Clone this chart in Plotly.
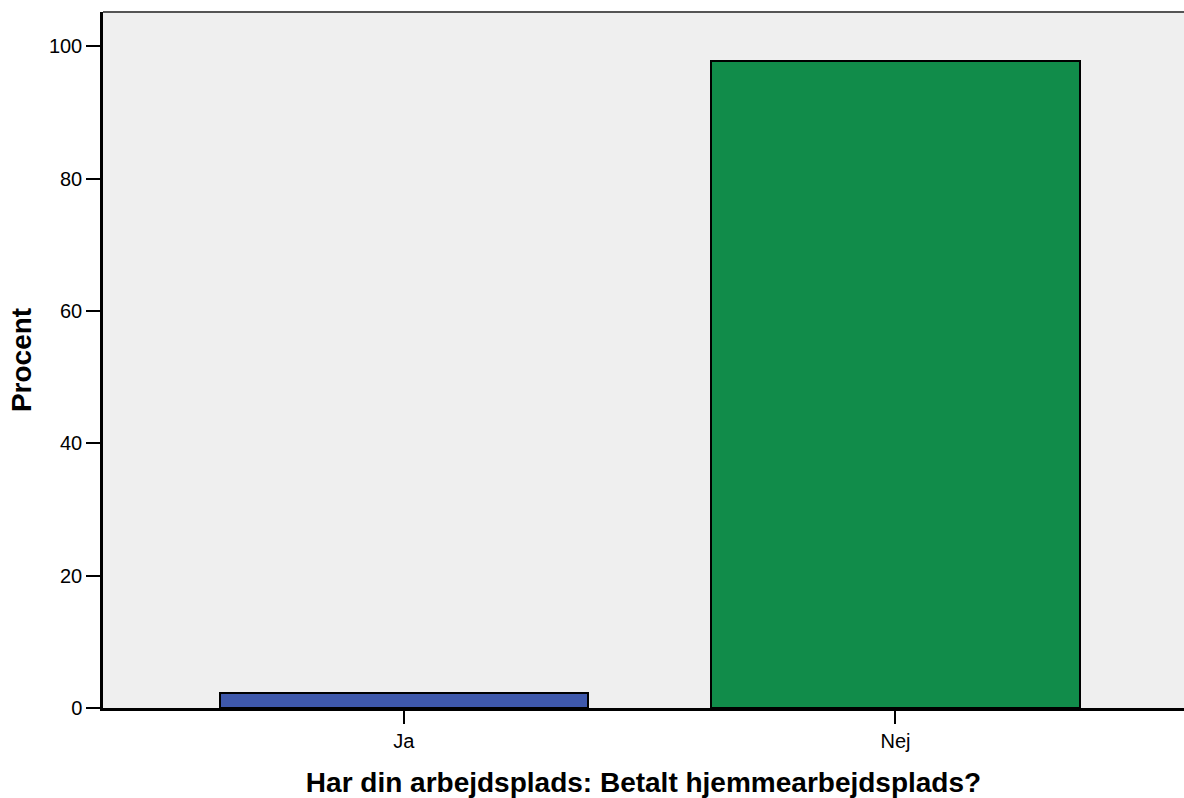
import plotly.graph_objects as go

categories = ["Ja", "Nej"]
values = [2.2, 97.8]
colors = ["#3E58AB", "#118C4A"]
y_ticks = [0, 20, 40, 60, 80, 100]

FONT = "Arial, Liberation Sans, Helvetica, sans-serif"

fig = go.Figure()
fig.add_trace(go.Bar(
    x=[0, 1],
    y=values,
    width=0.75,
    marker=dict(color=colors, line=dict(color="black", width=2)),
    hoverinfo="skip",
))

fig.update_layout(
    width=1184, height=798,
    margin=dict(l=103, r=0, t=12, b=90, pad=0),
    paper_bgcolor="white",
    plot_bgcolor="#EFEFEF",
    showlegend=False,
    font=dict(family=FONT, color="black"),
    bargap=0,
)
fig.update_xaxes(
    range=[-0.612, 1.587],
    tickmode="array",
    tickvals=[0, 1],
    ticktext=categories,
    ticks="outside", ticklen=13, tickwidth=2, tickcolor="black",
    tickfont=dict(size=20, family=FONT),
    showline=True, linecolor="black", linewidth=2.5,
    mirror=False,
    showgrid=False, zeroline=False,
    title=dict(text="<b>Har din arbejdsplads: Betalt hjemmearbejdsplads?</b>",
               font=dict(size=28, family=FONT), standoff=23),
)
fig.update_yaxes(
    range=[0, 105.2],
    tickmode="array",
    tickvals=y_ticks,
    ticks="outside", ticklen=14, tickwidth=2, tickcolor="black",
    tickfont=dict(size=20, family=FONT),
    showline=True, linecolor="black", linewidth=2.5,
    showgrid=False, zeroline=False,
    title=dict(text="<b>Procent</b>", font=dict(size=28, family=FONT), standoff=10),
)
# top border of the plot area
fig.add_shape(type="line", xref="paper", yref="paper", x0=0, x1=1, y0=1, y1=1,
              line=dict(color="#555555", width=2))

fig.write_html("out.html", config={"displayModeBar": False},
               post_script="document.body.style.margin='0px';")
